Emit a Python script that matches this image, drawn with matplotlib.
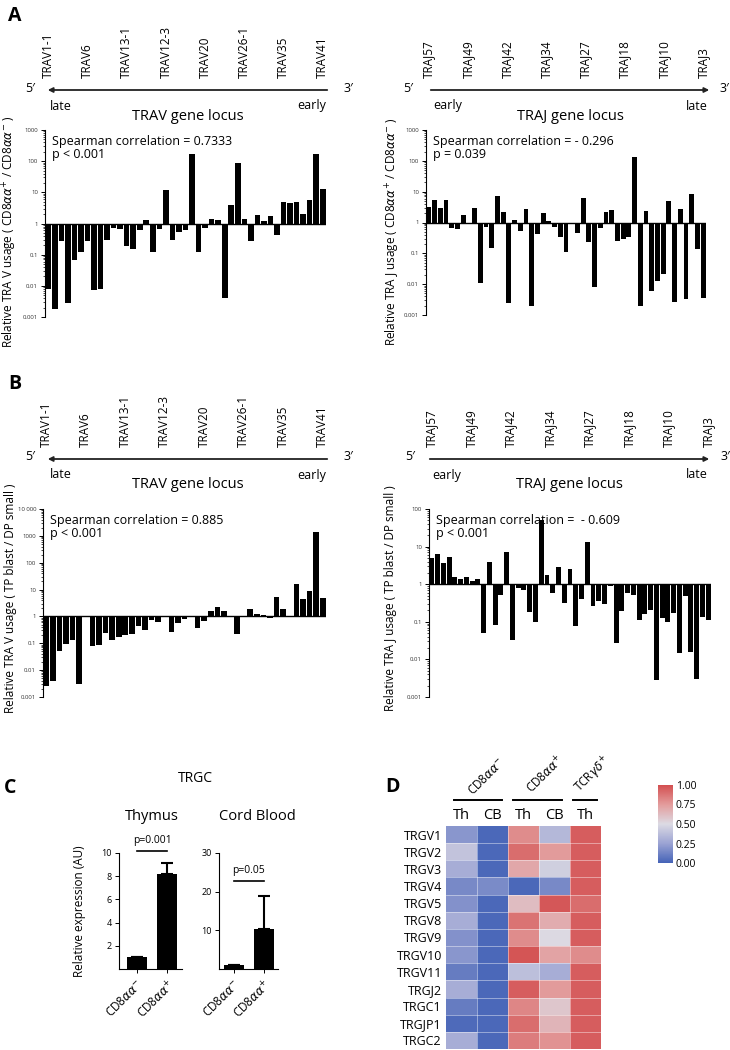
import matplotlib
matplotlib.use("Agg")
import matplotlib.pyplot as plt
import numpy as np
from matplotlib.colors import LinearSegmentedColormap
from matplotlib.transforms import blended_transform_factory
from matplotlib.ticker import FixedLocator, FixedFormatter, NullFormatter

plt.rcParams['font.family'] = ['Open Sans', 'DejaVu Sans']
plt.rcParams['mathtext.fontset'] = 'dejavusans'

# ---- data ----
trav_labels = ["TRAV1-1", "TRAV6", "TRAV13-1", "TRAV12-3", "TRAV20", "TRAV26-1", "TRAV35", "TRAV41"]
traj_labels = ["TRAJ57", "TRAJ49", "TRAJ42", "TRAJ34", "TRAJ27", "TRAJ18", "TRAJ10", "TRAJ3"]

# A: CD8aa+ / CD8aa-
trav_cd8 = [0.008, 0.0018, 0.28, 0.0028, 0.065, 0.12, 0.28, 0.0073, 0.008, 0.3,
            0.7, 0.65, 0.19, 0.155, 0.6, 1.28, 0.125, 0.65, 12, 0.29,
            0.53, 0.6, 175, 0.12, 0.7, 1.35, 1.25, 0.004, 3.8, 88,
            1.4, 0.27, 1.85, 1.2, 1.7, 0.42, 5.0, 4.4, 4.8, 2.05,
            5.8, 165, 13]
traj_cd8 = [3.2, 5.5, 3.0, 5.2, 0.68, 0.6, 1.7, 0.88, 3.0, 0.011,
            0.72, 0.15, 7.5, 2.2, 0.0025, 1.25, 0.55, 2.7, 0.002, 0.43,
            2.05, 1.08, 0.74, 0.34, 0.11, 0.92, 0.46, 6.2, 0.24, 0.008,
            0.68, 2.15, 2.6, 0.26, 0.3, 0.33, 135, 0.002, 2.3, 0.006,
            0.013, 0.022, 4.8, 0.0027, 2.8, 0.0033, 8.2, 0.14, 0.0035]

# B: TP blast / DP small
trav_tp = [0.0026, 0.0038, 0.05, 0.093, 0.135, 0.0031, 1.0, 0.08, 0.083, 0.24,
           0.13, 0.165, 0.21, 0.23, 0.44, 0.3, 0.75, 0.62, 0.95, 0.26,
           0.58, 0.82, 1.0, 0.37, 0.68, 1.65, 2.2, 1.65, 0.97, 0.23,
           0.93, 1.95, 1.25, 1.15, 0.85, 5.3, 1.95, 1.05, 16.5, 4.3,
           8.8, 1350, 4.8]
traj_tp = [5.0, 6.5, 3.6, 5.4, 1.55, 1.4, 1.55, 1.18, 1.4, 0.051,
           3.9, 0.08, 0.51, 7.1, 0.032, 0.81, 0.69, 0.18, 0.1, 52,
           1.77, 0.57, 2.95, 0.32, 2.6, 0.076, 0.41, 13.5, 0.26, 0.35,
           0.3, 0.9, 0.027, 0.19, 0.57, 0.51, 0.115, 0.16, 0.2, 0.0028,
           0.13, 0.1, 0.17, 0.015, 0.49, 0.016, 0.003, 0.135, 0.11]

# C: TRGC relative expression
c_groups = [r"CD8$\alpha\alpha^{-}$", r"CD8$\alpha\alpha^{+}$"]
thymus_vals = [1.0, 8.2]
thymus_err = [0.0, 0.9]
cord_vals = [1.1, 10.3]
cord_err = [0.0, 8.7]

# D: heatmap
heat_rows = ["TRGV1", "TRGV2", "TRGV3", "TRGV4", "TRGV5", "TRGV8", "TRGV9",
             "TRGV10", "TRGV11", "TRGJ2", "TRGC1", "TRGJP1", "TRGC2"]
heat_cols = ["Th", "CB", "Th", "CB", "Th"]
heat_vals = [
    [0.20, 0.02, 0.80, 0.35, 0.95],
    [0.40, 0.02, 0.90, 0.75, 0.95],
    [0.30, 0.02, 0.70, 0.45, 0.95],
    [0.15, 0.16, 0.02, 0.15, 0.95],
    [0.18, 0.02, 0.62, 0.97, 0.90],
    [0.30, 0.02, 0.88, 0.68, 0.95],
    [0.18, 0.02, 0.80, 0.50, 0.95],
    [0.20, 0.02, 0.98, 0.72, 0.80],
    [0.10, 0.02, 0.38, 0.30, 0.95],
    [0.30, 0.02, 0.95, 0.75, 0.95],
    [0.10, 0.02, 0.82, 0.58, 0.95],
    [0.03, 0.02, 0.90, 0.65, 0.95],
    [0.30, 0.02, 0.85, 0.78, 0.95],
]

W, H = 730, 1050
fig = plt.figure(figsize=(7.3, 10.5), dpi=100)


def box(x0, y0, x1, y1):
    return [x0 / W, 1 - y1 / H, (x1 - x0) / W, (y1 - y0) / H]


def fx(x):
    return x / W


def fy(y):
    return 1 - y / H


def locus_panel(x0, x1, y0, y1, values, ymax_exp, labels, lab_y, arrow_y,
                arrow_x, left_word, right_word, locus_name, stat1, stat2,
                ylab, ylab_x, ylab_y, five_x, three_x):
    ax = fig.add_axes(box(x0, y0, x1, y1))
    n = len(values)
    x = np.arange(n)
    v = np.array(values)
    ax.bar(x, v - 1, bottom=1, width=0.86, color='black', linewidth=0)
    ax.set_yscale('log')
    ax.set_ylim(1e-3, 10 ** ymax_exp)
    ax.set_xlim(-0.5, n - 0.5)
    ax.axhline(1, color='black', lw=1.0)
    for s in ['top', 'right', 'bottom']:
        ax.spines[s].set_visible(False)
    ax.spines['left'].set_linewidth(0.8)
    ax.set_xticks([])
    majors = [10.0 ** e for e in range(-3, ymax_exp + 1)]
    names = {-3: '0.001', -2: '0.01', -1: '0.1', 0: '1', 1: '10', 2: '100', 3: '1000', 4: '10 000'}
    ax.yaxis.set_major_locator(FixedLocator(majors))
    ax.yaxis.set_major_formatter(FixedFormatter([names[e] for e in range(-3, ymax_exp + 1)]))
    minors = [m * 10.0 ** e for e in range(-3, ymax_exp) for m in range(2, 10)]
    ax.yaxis.set_minor_locator(FixedLocator(minors))
    ax.yaxis.set_minor_formatter(NullFormatter())
    ax.tick_params(axis='y', which='major', labelsize=4.3, length=3, width=0.7,
                   labelcolor='#333333', pad=2)
    ax.tick_params(axis='y', which='minor', length=1.5, width=0.5)
    # label placed in figure pixels (x = right edge of the rotated text)
    fig.text(fx(ylab_x), fy(ylab_y), ylab, rotation=90, ha='right', va='center',
             fontsize=8.5)
    ax.text(0.025, 0.94, stat1, transform=ax.transAxes, fontsize=9, va='center')
    ax.text(0.025, 0.87, stat2, transform=ax.transAxes, fontsize=9, va='center')

    # gene labels on top, aligned with the bars
    tr = blended_transform_factory(ax.transData, fig.transFigure)
    pos = np.linspace(0, n - 1, len(labels))
    for p, lab in zip(pos, labels):
        ax.text(p, fy(lab_y), lab, transform=tr, rotation=90, ha='center',
                va='bottom', fontsize=8.5, clip_on=False)
    # locus arrow
    ax0, ax1 = arrow_x
    fig.add_artist(matplotlib.patches.FancyArrowPatch(
        (fx(ax0), fy(arrow_y)), (fx(ax1), fy(arrow_y)), transform=fig.transFigure,
        arrowstyle='-|>', mutation_scale=7, lw=1.3, color='#222222'))
    fig.text(fx(five_x), fy(arrow_y - 2), "5\u2032", fontsize=9, ha='center', va='center')
    fig.text(fx(three_x), fy(arrow_y - 2), "3\u2032", fontsize=9, ha='center', va='center')
    lo = min(ax0, ax1)
    hi = max(ax0, ax1)
    fig.text(fx(lo + 5), fy(arrow_y + 16), left_word, fontsize=9, ha='left', va='center')
    fig.text(fx(hi - 4), fy(arrow_y + 16), right_word, fontsize=9, ha='right', va='center')
    fig.text(fx((lo + hi) / 2), fy(arrow_y + 26), locus_name, fontsize=10.5, ha='center', va='center')
    return ax


ylab_a_v = r"Relative TRA V usage ( CD8$\alpha\alpha^{+}$ / CD8$\alpha\alpha^{-}$ )"
ylab_a_j = r"Relative TRA J usage ( CD8$\alpha\alpha^{+}$ / CD8$\alpha\alpha^{-}$ )"
ylab_b_v = "Relative TRA V usage ( TP blast / DP small )"
ylab_b_j = "Relative TRA J usage ( TP blast / DP small )"

# Panel A
locus_panel(45, 326, 130, 317, trav_cd8, 3, trav_labels, 78, 90, (330, 45),
            "late", "early", "TRAV gene locus",
            "Spearman correlation = 0.7333", "p < 0.001", ylab_a_v, 19, 232, 30, 348)
locus_panel(426, 706, 130, 315, traj_cd8, 3, traj_labels, 78, 90, (428, 712),
            "early", "late", "TRAJ gene locus",
            "Spearman correlation = - 0.296", "p = 0.039", ylab_a_j, 402, 232, 408, 724)
# Panel B
locus_panel(43, 326, 509, 697, trav_tp, 4, trav_labels, 447, 459, (330, 45),
            "late", "early", "TRAV gene locus",
            "Spearman correlation = 0.885", "p < 0.001", ylab_b_v, 17, 598, 30, 348)
locus_panel(429, 711, 509, 697, traj_tp, 2, traj_labels, 447, 459, (427, 712),
            "early", "late", "TRAJ gene locus",
            "Spearman correlation =  - 0.609", "p < 0.001", ylab_b_j, 397, 598, 410, 725)

fig.text(fx(15), fy(16), "A", fontsize=14, fontweight='bold', ha='center', va='center')
fig.text(fx(15), fy(384), "B", fontsize=14, fontweight='bold', ha='center', va='center')
fig.text(fx(10), fy(788), "C", fontsize=14, fontweight='bold', ha='center', va='center')
fig.text(fx(393), fy(787), "D", fontsize=14, fontweight='bold', ha='center', va='center')


# Panel C
def bar_panel(x0, x1, vals, errs, ymax, yticks, xlim, line_y, text_y, ptxt, title, title_x):
    ax = fig.add_axes(box(x0, 853, x1, 969))
    ax.bar([0, 1], vals, width=0.66, color='black')
    ax.errorbar([0, 1], vals, yerr=[[0, 0], errs], fmt='none', ecolor='black',
                elinewidth=1.5, capsize=4, capthick=1.5)
    ax.set_ylim(0, ymax)
    ax.set_xlim(*xlim)
    ax.set_yticks(yticks)
    ax.set_xticks([0, 1])
    ax.set_xticklabels(c_groups, rotation=45, ha='right', rotation_mode='anchor', fontsize=8.5)
    for s in ['top', 'right']:
        ax.spines[s].set_visible(False)
    ax.tick_params(axis='y', labelsize=6.5, length=3, width=0.7, pad=2)
    ax.tick_params(axis='x', length=3, width=0.7, pad=3)
    ax.plot([0, 1], [line_y, line_y], color='black', lw=1.2, clip_on=False)
    ax.text(0.5, text_y, ptxt, ha='center', va='center', fontsize=7.5)
    fig.text(fx(title_x), fy(816), title, fontsize=10.5, ha='center', va='center')
    return ax


ax_t = bar_panel(119, 182, thymus_vals, thymus_err, 10, [2, 4, 6, 8, 10], (-0.59, 1.48),
                 10.2, 11.1, "p=0.001", "Thymus", 152)
ax_t.set_ylabel("Relative expression (AU)", fontsize=8.5)
ax_t.yaxis.set_label_coords((86 - 119) / 63, 0.5)
bar_panel(219, 278, cord_vals, cord_err, 30, [10, 20, 30], (-0.5, 1.47),
          22.8, 25.6, "p=0.05", "Cord Blood", 257)
fig.text(fx(195), fy(778), "TRGC", fontsize=10, ha='center', va='center')

# Panel D
cmap = LinearSegmentedColormap.from_list(
    "bwr_soft", [(0.0, '#4563B7'), (0.25, '#9BA3D3'), (0.5, '#DCDAE3'),
                 (0.75, '#E39C9C'), (1.0, '#D34F50')])
axh = fig.add_axes(box(446, 826, 601, 1049))
data = np.array(heat_vals)
im = axh.imshow(data, cmap=cmap, vmin=0, vmax=1, aspect='auto',
                interpolation='nearest')
for i in range(1, data.shape[0]):
    axh.axhline(i - 0.5, color='white', lw=0.5, alpha=0.6)
for j in range(1, data.shape[1]):
    axh.axvline(j - 0.5, color='white', lw=0.5, alpha=0.6)
axh.set_yticks(range(len(heat_rows)))
axh.set_yticklabels(heat_rows, fontsize=9)
axh.set_xticks(range(len(heat_cols)))
axh.set_xticklabels(heat_cols, fontsize=10.5)
axh.xaxis.tick_top()
axh.tick_params(length=0, pad=3)
axh.tick_params(axis='x', pad=2)
for s in axh.spines.values():
    s.set_visible(False)

group_lines = [(454, 502), (513, 562), (573, 597)]
group_names = [r"CD8$\alpha\alpha^{-}$", r"CD8$\alpha\alpha^{+}$", r"TCR$\gamma\delta^{+}$"]
group_text = [(487, 777), (546, 775), (593, 775)]
for (a, b), name, (tx, ty) in zip(group_lines, group_names, group_text):
    fig.add_artist(matplotlib.lines.Line2D([fx(a), fx(b)], [fy(800), fy(800)],
                                           transform=fig.transFigure, color='black', lw=1.4))
    fig.text(fx(tx), fy(ty), name, rotation=45, ha='center', va='center', fontsize=8.5)

cax = fig.add_axes(box(658, 785, 673, 863))
cb = fig.colorbar(im, cax=cax, ticks=[0, 0.25, 0.5, 0.75, 1.0])
cb.ax.set_yticklabels(['0.00', '0.25', '0.50', '0.75', '1.00'])
cb.ax.tick_params(labelsize=7.5, length=0, pad=2)
cb.outline.set_visible(False)

fig.savefig("out.png", dpi=100)
